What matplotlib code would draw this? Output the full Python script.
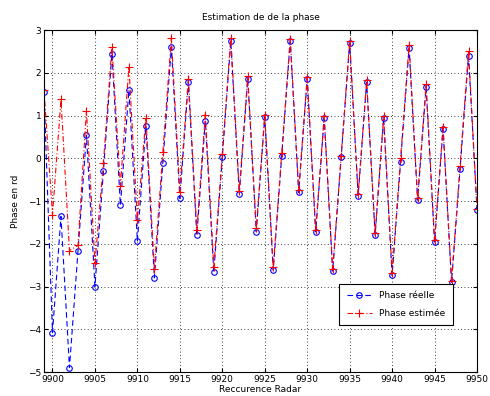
import matplotlib
matplotlib.use('Agg')
import matplotlib.pyplot as plt
import numpy as np

# recurrence index
x = np.arange(9899, 9951)

phase_reelle = [1.55, -4.08, -1.36, -4.9, -2.18, 0.54, -3.0, -0.3, 2.45, -1.1,
                1.6, -1.94, 0.76, -2.8, -0.1, 2.61, -0.94, 1.78, -1.8, 0.88,
                -2.66, 0.02, 2.74, -0.84, 1.86, -1.72, 0.97, -2.62, 0.06, 2.74,
                -0.8, 1.86, -1.72, 0.94, -2.64, 0.02, 2.7, -0.88, 1.78, -1.8,
                0.94, -2.74, -0.08, 2.58, -0.98, 1.66, -1.96, 0.69, -2.9, -0.26,
                2.4, -1.2]
phase_estimee = [1.6, -1.32, 1.38, -2.16, -2.04, 1.11, -2.46, -0.1, 2.61, -0.64,
                 2.14, -1.44, 0.94, -2.58, 0.14, 2.82, -0.78, 1.86, -1.68, 1.02,
                 -2.54, 0.1, 2.82, -0.76, 1.92, -1.64, 1.02, -2.55, 0.12, 2.8,
                 -0.75, 1.9, -1.68, 0.98, -2.6, 0.06, 2.74, -0.84, 1.82, -1.76,
                 0.98, -2.68, 0.0, 2.66, -0.94, 1.73, -1.92, 0.74, -2.86, -0.18,
                 2.5, -1.18]

plt.rcParams['font.family'] = 'DejaVu Sans'
plt.rcParams['font.size'] = 6.5

fig = plt.figure(figsize=(4.9, 3.96), dpi=100)
ax = fig.add_axes([0.0898, 0.0606, 0.8837, 0.8636])

ax.plot(x, phase_reelle, color='blue', linestyle=(0, (5, 3)), marker='o',
        mfc='none', markersize=4, markeredgewidth=0.8, linewidth=0.8,
        label='Phase réelle')
ax.plot(x, phase_estimee, color='red', linestyle=(0, (5, 2, 1, 2)), marker='+',
        markersize=6, markeredgewidth=0.8, linewidth=0.8,
        label='Phase estimée')

ax.set_xlim(9899, 9950)
ax.set_ylim(-5, 3)
ax.set_xticks(np.arange(9900, 9951, 5))
ax.set_yticks(np.arange(-5, 4, 1))
ax.grid(True, linestyle=(0, (1, 3)), color='black', linewidth=0.6)
ax.tick_params(direction='in', top=True, right=True, length=3, pad=2)
for s in ax.spines.values():
    s.set_linewidth(0.8)

ax.set_title('Estimation de de la phase', fontsize=6.5, pad=7)
ax.set_xlabel('Reccurence Radar', labelpad=1)
ax.set_ylabel('Phase en rd', labelpad=6)

leg = ax.legend(loc='lower right', bbox_to_anchor=(0.954, 0.123),
                fancybox=False, framealpha=1, edgecolor='black',
                fontsize=6.5, handlelength=2.8, borderpad=0.8, labelspacing=1.0)
leg.get_frame().set_linewidth(0.8)

fig.savefig('out.png', dpi=100)
